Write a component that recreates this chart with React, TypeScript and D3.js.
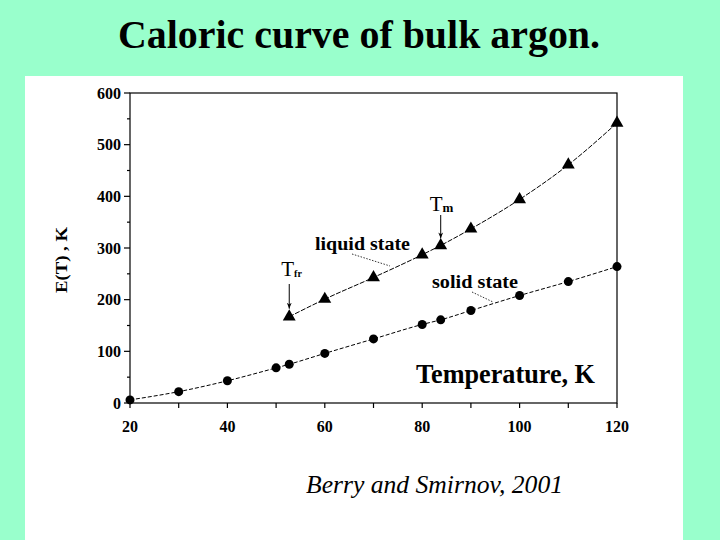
import React from "react";
import * as d3 from "d3";

// temperatures (K) and E(T)
const solidT = [20, 30, 40, 50, 52.7, 60, 70, 80, 83.8, 90, 100, 110, 120];
const solidE = [6, 22, 43, 68, 75, 96, 124, 152, 161, 179, 208, 235, 264];
const liquidT = [52.7, 60, 70, 80, 83.8, 90, 100, 110, 120];
const liquidE = [167, 201, 243, 287, 305, 337, 394, 461, 542];
const xTicks = [20, 30, 40, 50, 60, 70, 80, 90, 100, 110, 120];
const yTicks = [0, 50, 100, 150, 200, 250, 300, 350, 400, 450, 500, 550, 600];
const T_FREEZE = 52.7;
const T_MELT = 83.8;

const serif = "'Liberation Serif', 'DejaVu Serif', serif";

const App = () => {
  const x = d3.scaleLinear().domain([20, 120]).range([130, 617]);
  const y = d3.scaleLinear().domain([0, 600]).range([403, 93]);

  const solid = solidT.map((t, i) => [t, solidE[i]] as [number, number]);
  const liquid = liquidT.map((t, i) => [t, liquidE[i]] as [number, number]);

  const line = d3
    .line<[number, number]>()
    .x((d) => x(d[0]))
    .y((d) => y(d[1]))
    .curve(d3.curveMonotoneX);

  const tri = d3.symbol().type(d3.symbolTriangle).size(72)();

  const eFr = liquidE[0];
  const eM = liquidE[liquidT.indexOf(T_MELT)];

  return (
    <svg
      width={720}
      height={540}
      style={{ position: "absolute", left: 0, top: 0, display: "block" }}
      fontFamily={serif}
    >
      <defs>
        <marker id="ah" viewBox="0 0 10 10" refX={10} refY={5} markerWidth={6} markerHeight={7} orient="auto">
          <path d="M0,1 L10,5 L0,9 L3,5 Z" fill="#000" />
        </marker>
      </defs>
      <rect width={720} height={540} fill="#99ffcc" />
      <rect x={25} y={76} width={658} height={464} fill="#fff" />

      <text x={359} y={48} textAnchor="middle" fontSize={40} fontWeight="bold" textLength={482} lengthAdjust="spacingAndGlyphs">
        Caloric curve of bulk argon.
      </text>

      {/* frame */}
      <rect x={x(20)} y={y(600)} width={x(120) - x(20)} height={y(0) - y(600)} fill="none" stroke="#000" strokeWidth={1.2} />

      {/* x axis ticks */}
      {xTicks.map((t) => (
        <g key={"x" + t}>
          <line x1={x(t)} x2={x(t)} y1={y(0)} y2={y(0) + 5} stroke="#000" strokeWidth={1.2} />
          {t % 20 === 0 && (
            <text x={x(t)} y={432} textAnchor="middle" fontSize={16} fontWeight="bold">
              {t}
            </text>
          )}
        </g>
      ))}

      {/* y axis ticks */}
      {yTicks.map((v) => (
        <g key={"y" + v}>
          <line x1={x(20) - (v % 100 === 0 ? 6 : 3)} x2={x(20)} y1={y(v)} y2={y(v)} stroke="#000" strokeWidth={1.2} />
          {v % 100 === 0 && (
            <text x={121} y={y(v) + 5.5} textAnchor="end" fontSize={16} fontWeight="bold">
              {v}
            </text>
          )}
        </g>
      ))}

      <text transform="translate(67,260) rotate(-90)" textAnchor="middle" fontSize={17} fontWeight="bold" textLength={66} lengthAdjust="spacingAndGlyphs">
        E(T) , K
      </text>

      {/* curves */}
      <path d={line(solid) ?? ""} fill="none" stroke="#000" strokeWidth={1} strokeDasharray="4,2" />
      <path d={line(liquid) ?? ""} fill="none" stroke="#000" strokeWidth={1} strokeDasharray="5,1.5" />

      {solid.map((d, i) => (
        <circle key={"s" + i} cx={x(d[0])} cy={y(d[1])} r={4.5} fill="#000" />
      ))}
      {liquid.map((d, i) => (
        <path key={"l" + i} d={tri ?? ""} transform={`translate(${x(d[0])},${y(d[1])})`} fill="#000" />
      ))}

      {/* annotations */}
      <text x={315} y={250} fontSize={18} fontWeight="bold" textLength={95} lengthAdjust="spacingAndGlyphs">
        liquid state
      </text>
      <line x1={352} y1={254} x2={390} y2={266} stroke="#000" strokeWidth={0.8} strokeDasharray="1.5,1.5" />

      <text x={432} y={288} fontSize={18} fontWeight="bold" textLength={86} lengthAdjust="spacingAndGlyphs">
        solid state
      </text>
      <line x1={472} y1={292} x2={493} y2={302} stroke="#000" strokeWidth={0.8} strokeDasharray="1.5,1.5" />

      <text x={x(T_MELT) - 11} y={211} fontSize={21}>
        T<tspan fontSize={13} fontWeight="bold" dy={1}>m</tspan>
      </text>
      <line x1={x(T_MELT)} x2={x(T_MELT)} y1={215} y2={y(eM) - 7} stroke="#000" strokeWidth={1} markerEnd="url(#ah)" />

      <text x={x(T_FREEZE) - 8} y={276} fontSize={21}>
        T<tspan fontSize={10} fontWeight="bold" dy={1}>fr</tspan>
      </text>
      <line x1={x(T_FREEZE)} x2={x(T_FREEZE)} y1={284} y2={y(eFr) - 8} stroke="#000" strokeWidth={1} markerEnd="url(#ah)" />

      <text x={416} y={383} fontSize={27} fontWeight="bold" textLength={179} lengthAdjust="spacingAndGlyphs">
        Temperature, K
      </text>

      <text x={306} y={493} fontSize={25} fontStyle="italic" textLength={257} lengthAdjust="spacingAndGlyphs">
        Berry and Smirnov, 2001
      </text>
    </svg>
  );
};

export default App;
